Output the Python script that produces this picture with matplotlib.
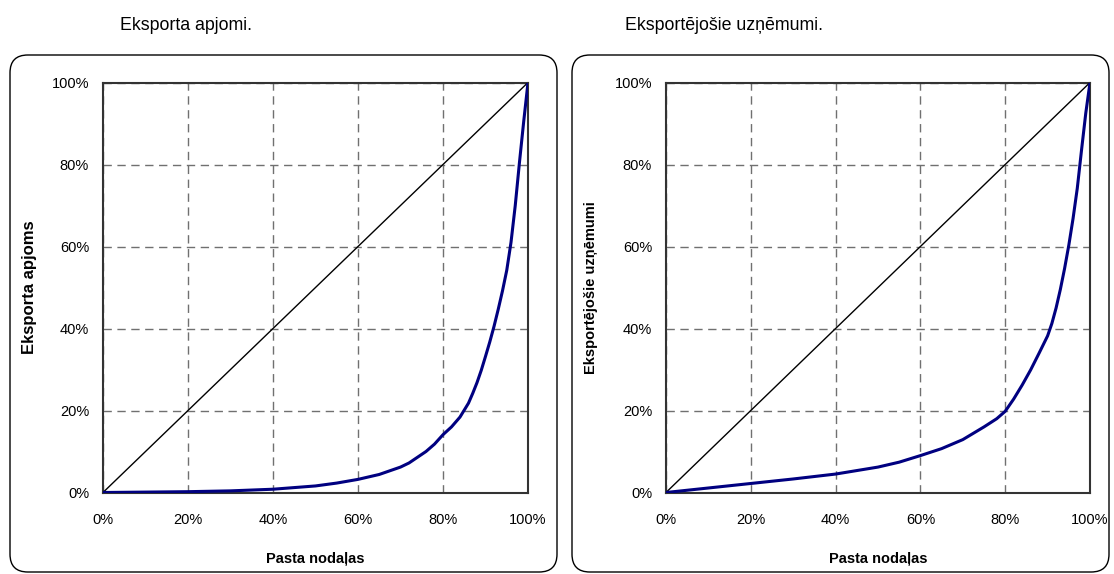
import matplotlib
matplotlib.use("Agg")
import matplotlib.pyplot as plt
from matplotlib.patches import FancyBboxPatch
from matplotlib.ticker import PercentFormatter

plt.rcParams['font.family'] = ['Liberation Sans', 'DejaVu Sans']

# Data (share of post offices vs cumulative share)
x_left = [0.0, 0.10, 0.20, 0.30, 0.40, 0.50, 0.55, 0.60, 0.65, 0.70, 0.72, 0.74, 0.76, 0.78,
          0.80, 0.82, 0.84, 0.86, 0.87, 0.88, 0.89, 0.90, 0.91, 0.92, 0.93, 0.94, 0.95,
          0.96, 0.97, 0.98, 0.99, 1.0]
y_left = [0.0, 0.001, 0.002, 0.004, 0.008, 0.016, 0.023, 0.032, 0.044, 0.062, 0.072, 0.086,
          0.100, 0.118, 0.141, 0.160, 0.184, 0.218, 0.242, 0.268, 0.298, 0.332, 0.367, 0.405,
          0.447, 0.492, 0.542, 0.610, 0.700, 0.806, 0.906, 1.0]

x_right = [0.0, 0.10, 0.20, 0.30, 0.40, 0.50, 0.55, 0.60, 0.65, 0.70, 0.75, 0.78, 0.80,
           0.82, 0.84, 0.86, 0.88, 0.90, 0.91, 0.92, 0.93, 0.94, 0.95, 0.96, 0.97, 0.98,
           0.99, 1.0]
y_right = [0.0, 0.011, 0.022, 0.033, 0.045, 0.062, 0.074, 0.090, 0.107, 0.129, 0.160, 0.180,
           0.198, 0.228, 0.262, 0.299, 0.340, 0.382, 0.412, 0.450, 0.495, 0.546, 0.603, 0.668,
           0.742, 0.835, 0.925, 1.0]

diag = [0.0, 1.0]
ticks = [0.0, 0.2, 0.4, 0.6, 0.8, 1.0]

titles = ["Eksporta apjomi.", "Eksportējošie uzņēmumi."]
ylabels = ["Eksporta apjoms", "Eksportējošie uzņēmumi"]
xlabel = "Pasta nodaļas"

W, H = 1114, 574
fig = plt.figure(figsize=(W / 100, H / 100), dpi=100)
fig.patch.set_facecolor('white')

def fx(px):
    return px / W

def fy(py):
    return 1 - py / H

# rounded frames
for (x0, x1) in [(10, 557), (572, 1109)]:
    y0, y1 = 55, 572
    box = FancyBboxPatch((fx(x0), fy(y1)), fx(x1) - fx(x0), fy(y0) - fy(y1),
                         boxstyle="round,pad=0,rounding_size=0.016",
                         transform=fig.transFigure, facecolor='none',
                         edgecolor='black', linewidth=1.0,
                         mutation_aspect=W / H)
    fig.patches.append(box)

axes_px = [(103, 528), (666, 1090)]
series = [(x_left, y_left), (x_right, y_right)]
ylab_x = [37, 598]
ylab_size = [12.0, 10.5]
title_x = [120, 625]

for i, ((l, r), (xs, ys)) in enumerate(zip(axes_px, series)):
    top, bot = 82.5, 492.5
    ax = fig.add_axes([fx(l), fy(bot), fx(r) - fx(l), fy(top) - fy(bot)])
    ax.set_xlim(0, 1)
    ax.set_ylim(0, 1)
    ax.set_xticks(ticks)
    ax.set_yticks(ticks)
    ax.xaxis.set_major_formatter(PercentFormatter(1.0, decimals=0))
    ax.yaxis.set_major_formatter(PercentFormatter(1.0, decimals=0))
    ax.tick_params(length=0, labelsize=10.5, colors='black')
    ax.tick_params(axis='x', pad=15)
    ax.tick_params(axis='y', pad=10)
    ax.grid(True, color='#707070', linestyle=(0, (6, 4)), linewidth=1.0)
    ax.set_axisbelow(True)
    for s in ax.spines.values():
        s.set_color('#333333')
        s.set_linewidth(1.5)
    ax.plot(diag, diag, color='black', linewidth=1.0, zorder=3)
    ax.plot(xs, ys, color='#000080', linewidth=2.2, zorder=4,
            solid_capstyle='round', solid_joinstyle='round')
    ax.set_xlabel(xlabel, fontsize=10.5, fontweight='bold')
    ax.xaxis.set_label_coords(0.5, (fy(552) - fy(bot)) / (fy(top) - fy(bot)))
    ax.set_ylabel(ylabels[i], fontsize=ylab_size[i], fontweight='bold')
    ax.yaxis.set_label_coords((fx(ylab_x[i]) - fx(l)) / (fx(r) - fx(l)), 0.5)
    fig.text(fx(title_x[i]), fy(25), titles[i], fontsize=12.8, ha='left', va='center')

fig.savefig("out.png", dpi=100, facecolor='white')
